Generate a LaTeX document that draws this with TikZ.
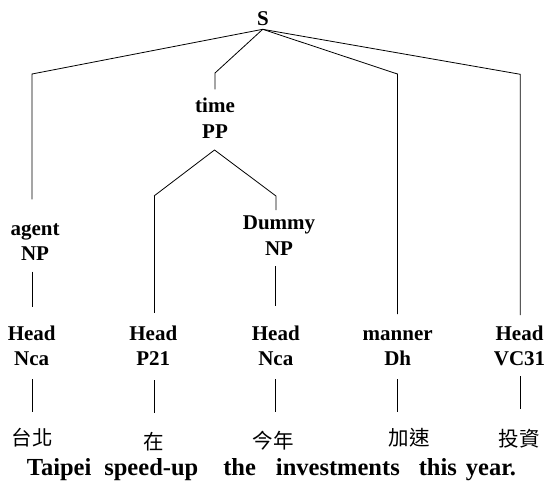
\documentclass[tikz,border=0pt]{standalone}
\usepackage{fontspec}
\setmainfont{Liberation Serif}
\newfontfamily\cjk{Noto Sans CJK TC}
\begin{document}
\begin{tikzpicture}[x=1pt,y=-1pt,
  lab/.style={font=\fontsize{21}{25.5}\selectfont\bfseries,align=center,anchor=base,inner sep=0pt},
  zh/.style={font=\cjk\fontsize{20.5}{24}\selectfont,inner sep=0pt,anchor=center},
  en/.style={font=\fontsize{24.5}{28}\selectfont\bfseries,inner sep=0pt,anchor=base west},
  edge/.style={line width=0.8pt,line join=miter}]
\useasboundingbox (0,0) rectangle (545,482);
% labels (anchor = baseline of the last line)
\node[lab] (S) at (263,25) {S};
\node[lab] (time) at (215,138.3) {time\\PP};
\node[lab] (agent) at (35,260.7) {agent\\NP};
\node[lab] (dummy) at (279,255) {Dummy\\NP};
\node[lab] (h1) at (31.7,365.7) {Head\\Nca};
\node[lab] (h2) at (153.3,365.7) {Head\\P21};
\node[lab] (h3) at (275.8,365.7) {Head\\Nca};
\node[lab] (h4) at (397.7,365.7) {manner\\Dh};
\node[lab] (h5) at (519.5,365.7) {Head\\VC31};
% chinese words
\node[zh] (z1) at (32.5,438) {台北};
\node[zh] (z2) at (154,441.5) {在};
\node[zh] (z3) at (273,441) {今年};
\node[zh] (z4) at (409,437.5) {加速};
\node[zh] (z5) at (519,439) {投資};
% translation
\node[en] (tr) at (26.7,475) {Taipei\hspace{13pt}speed-up\hspace{25pt}the\hspace{20pt}investments\hspace{19pt}this\hspace{9pt}year.};
% coordinates
\coordinate (top) at (262.7,29.3);
\coordinate (a1) at (32,74);    \coordinate (a2) at (32,199.3);
\coordinate (a3) at (32,271.7); \coordinate (a4) at (32,306.7);
\coordinate (a5) at (32,379);   \coordinate (a6) at (32,411.7);
\coordinate (t1) at (215,73);   \coordinate (t2) at (215,89.3);
\coordinate (p0) at (214.5,150);
\coordinate (p1) at (154,196);  \coordinate (p2) at (154,313);
\coordinate (p3) at (154,380);  \coordinate (p4) at (154,413);
\coordinate (d1) at (276,196);  \coordinate (d2) at (276,210);
\coordinate (d3) at (275.7,266);\coordinate (d4) at (275.7,306);
\coordinate (d5) at (275.7,379);\coordinate (d6) at (275.7,412);
\coordinate (m1) at (397.5,74); \coordinate (m2) at (397.5,314);
\coordinate (m3) at (397.5,379);\coordinate (m4) at (397.5,412);
\coordinate (v1) at (520.3,74.3);\coordinate (v2) at (520.3,315);
\coordinate (v3) at (520.3,376);\coordinate (v4) at (520.3,409);
% edges
\draw[edge] (top) -- (a1) -- (a2);
\draw[edge] (a3) -- (a4);
\draw[edge] (a5) -- (a6);
\draw[edge] (top) -- (t1) -- (t2);
\draw[edge] (p1) -- (p0) -- (d1) -- (d2);
\draw[edge] (p1) -- (p2);
\draw[edge] (p3) -- (p4);
\draw[edge] (d3) -- (d4);
\draw[edge] (d5) -- (d6);
\draw[edge] (top) -- (m1) -- (m2);
\draw[edge] (m3) -- (m4);
\draw[edge] (top) -- (v1) -- (v2);
\draw[edge] (v3) -- (v4);
\end{tikzpicture}
\end{document}
